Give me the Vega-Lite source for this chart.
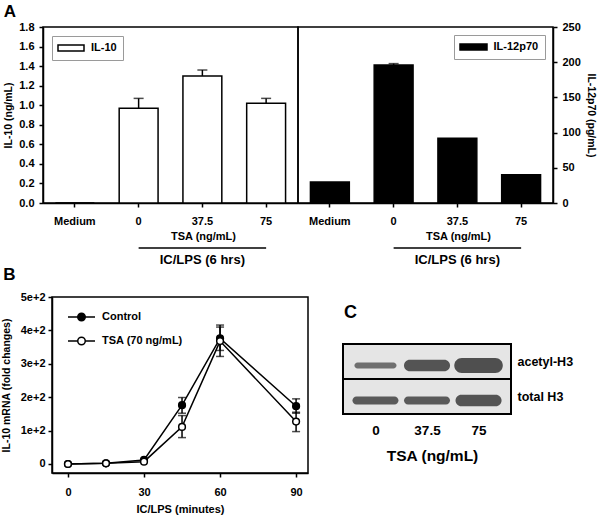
{
  "$schema": "https://vega.github.io/schema/vega-lite/v6.json",
  "background": "white",
  "padding": {"left": 0, "top": 2, "right": 0, "bottom": 0},
  "spacing": -3,
  "config": {
    "font": "Liberation Sans",
    "view": {"stroke": "black", "strokeWidth": 1.5},
    "axis": {
      "labelFont": "Liberation Sans", "labelFontWeight": "bold", "labelFontSize": 11, "labelColor": "black", "labelOverlap": false,
      "titleFont": "Liberation Sans", "titleFontWeight": "bold", "titleFontSize": 11, "titleColor": "black",
      "domainColor": "black", "domainWidth": 1.5, "tickColor": "black", "tickWidth": 1.5, "tickSize": 4, "grid": false
    },
    "legend": {
      "labelFont": "Liberation Sans", "labelFontWeight": "bold", "labelFontSize": 11, "labelColor": "black"
    },
    "title": {"font": "Liberation Sans", "fontSize": 17, "fontWeight": "bold", "color": "black", "anchor": "start", "frame": "bounds"}
  },
  "vconcat": [
    {
      "bounds": "flush",
      "spacing": 0,
      "resolve": {"scale": {"fill": "independent"}, "legend": {"fill": "independent"}},
      "hconcat": [
        {
          "width": 255, "height": 176,
          "title": {"text": "A", "offset": 0},
          "data": {"values": [
            {"lane": "Medium", "cytokine": "IL-10", "value": 0, "hi": null},
            {"lane": "0", "cytokine": "IL-10", "value": 0.97, "hi": 1.07},
            {"lane": "37.5", "cytokine": "IL-10", "value": 1.30, "hi": 1.36},
            {"lane": "75", "cytokine": "IL-10", "value": 1.02, "hi": 1.07}
          ]},
          "layer": [
            {
              "mark": {"type": "bar", "stroke": "black", "strokeWidth": 1.5},
              "encoding": {
                "x": {"field": "lane", "type": "nominal",
                  "scale": {"domain": ["Medium", "0", "37.5", "75"], "paddingInner": 0.39, "paddingOuter": 0.195},
                  "axis": {"labelAngle": 0, "labelPadding": 8, "title": "TSA (ng/mL)", "titleX": 160, "titleY": 33, "titleBaseline": "middle"}},
                "y": {"field": "value", "type": "quantitative",
                  "scale": {"domain": [0, 1.8], "nice": false},
                  "axis": {"values": [0, 0.2, 0.4, 0.6, 0.8, 1.0, 1.2, 1.4, 1.6, 1.8], "tickCount": 20, "format": ".1f", "labelPadding": 5, "title": "IL-10 (ng/mL)", "titleFontSize": 10.5, "titlePadding": 5}},
                "fill": {"field": "cytokine", "type": "nominal", "scale": {"range": ["white"]},
                  "legend": {"orient": "top-left", "offset": 9, "title": null, "symbolType": "M-2.6,-0.6H2.6V0.6H-2.6Z", "symbolSize": 100, "symbolStrokeColor": "black", "symbolStrokeWidth": 1.5, "strokeColor": "#9a9a9a", "fillColor": "white", "padding": 6, "symbolOffset": 7, "labelOffset": 14}}
              }
            },
            {
              "mark": {"type": "rule", "color": "black", "strokeWidth": 1.5},
              "encoding": {
                "x": {"field": "lane", "type": "nominal"},
                "y": {"field": "value", "type": "quantitative"},
                "y2": {"field": "hi"}
              }
            },
            {
              "mark": {"type": "tick", "color": "black", "size": 10, "thickness": 1.5},
              "encoding": {
                "x": {"field": "lane", "type": "nominal"},
                "y": {"field": "hi", "type": "quantitative"}
              }
            },
            {
              "data": {"values": [{"group": "IC/LPS (6 hrs)"}]},
              "mark": {"type": "rule", "color": "black", "strokeWidth": 1.5},
              "encoding": {
                "x": {"datum": "0", "bandPosition": 0.5},
                "x2": {"datum": "75", "bandPosition": 0.5},
                "y": {"datum": -0.46}
              }
            },
            {
              "data": {"values": [{"group": "IC/LPS (6 hrs)"}]},
              "mark": {"type": "text", "fontSize": 13, "fontWeight": "bold", "font": "Liberation Sans", "baseline": "middle", "color": "black"},
              "encoding": {
                "x": {"datum": "37.5", "bandPosition": 0.5},
                "y": {"datum": -0.583},
                "text": {"field": "group"}
              }
            }
          ]
        },
        {
          "width": 255, "height": 176,
          "data": {"values": [
            {"lane": "Medium", "cytokine": "IL-12p70", "value": 30, "hi": null},
            {"lane": "0", "cytokine": "IL-12p70", "value": 196, "hi": 198},
            {"lane": "37.5", "cytokine": "IL-12p70", "value": 92, "hi": null},
            {"lane": "75", "cytokine": "IL-12p70", "value": 40, "hi": null}
          ]},
          "layer": [
            {
              "mark": {"type": "bar", "stroke": "black", "strokeWidth": 1.5},
              "encoding": {
                "x": {"field": "lane", "type": "nominal",
                  "scale": {"domain": ["Medium", "0", "37.5", "75"], "paddingInner": 0.39, "paddingOuter": 0.195},
                  "axis": {"labelAngle": 0, "labelPadding": 8, "title": "TSA (ng/mL)", "titleX": 160, "titleY": 33, "titleBaseline": "middle"}},
                "y": {"field": "value", "type": "quantitative",
                  "scale": {"domain": [0, 250], "nice": false},
                  "axis": {"orient": "right", "values": [0, 50, 100, 150, 200, 250], "tickCount": 20, "labelPadding": 5, "title": "IL-12p70 (pg/mL)", "titleFontSize": 10.5, "titlePadding": 5}},
                "fill": {"field": "cytokine", "type": "nominal", "scale": {"range": ["black"]},
                  "legend": {"orient": "top-right", "offset": 8, "title": null, "symbolType": "M-2.7,-0.6H2.7V0.6H-2.7Z", "symbolSize": 100, "symbolStrokeColor": "black", "symbolStrokeWidth": 1.5, "strokeColor": "#9a9a9a", "fillColor": "white", "padding": 6, "symbolOffset": 7.5, "labelOffset": 14}}
              }
            },
            {
              "mark": {"type": "rule", "color": "black", "strokeWidth": 1.5},
              "encoding": {
                "x": {"field": "lane", "type": "nominal"},
                "y": {"field": "value", "type": "quantitative"},
                "y2": {"field": "hi"}
              }
            },
            {
              "mark": {"type": "tick", "color": "black", "size": 10, "thickness": 1.5},
              "encoding": {
                "x": {"field": "lane", "type": "nominal"},
                "y": {"field": "hi", "type": "quantitative"}
              }
            },
            {
              "data": {"values": [{"group": "IC/LPS (6 hrs)"}]},
              "mark": {"type": "rule", "color": "black", "strokeWidth": 1.5},
              "encoding": {
                "x": {"datum": "0", "bandPosition": 0.5},
                "x2": {"datum": "75", "bandPosition": 0.5},
                "y": {"datum": -64}
              }
            },
            {
              "data": {"values": [{"group": "IC/LPS (6 hrs)"}]},
              "mark": {"type": "text", "fontSize": 13, "fontWeight": "bold", "font": "Liberation Sans", "baseline": "middle", "color": "black"},
              "encoding": {
                "x": {"datum": "37.5", "bandPosition": 0.5},
                "y": {"datum": -81},
                "text": {"field": "group"}
              }
            }
          ]
        }
      ]
    },
    {
      "bounds": "flush",
      "spacing": 8,
      "resolve": {"scale": {"color": "independent", "shape": "independent", "fill": "independent"}},
      "hconcat": [
        {
          "width": 1, "height": 1,
          "view": {"stroke": null},
          "data": {"values": []},
          "mark": "point"
        },
        {
          "width": 256, "height": 176,
          "title": {"text": "B", "offset": 7, "dx": 2},
          "data": {"values": [
            {"series": "Control", "t": 0, "value": 0, "lo": null, "hi": null},
            {"series": "Control", "t": 15, "value": 2, "lo": null, "hi": null},
            {"series": "Control", "t": 30, "value": 12, "lo": null, "hi": null},
            {"series": "Control", "t": 45, "value": 176, "lo": 152, "hi": 199},
            {"series": "Control", "t": 60, "value": 376, "lo": 340, "hi": 416},
            {"series": "Control", "t": 90, "value": 173, "lo": 152, "hi": 195},
            {"series": "TSA (70 ng/mL)", "t": 0, "value": 0, "lo": null, "hi": null},
            {"series": "TSA (70 ng/mL)", "t": 15, "value": 2, "lo": null, "hi": null},
            {"series": "TSA (70 ng/mL)", "t": 30, "value": 7, "lo": null, "hi": null},
            {"series": "TSA (70 ng/mL)", "t": 45, "value": 111, "lo": 79, "hi": 145},
            {"series": "TSA (70 ng/mL)", "t": 60, "value": 368, "lo": 322, "hi": 410},
            {"series": "TSA (70 ng/mL)", "t": 90, "value": 127, "lo": 97, "hi": 155}
          ]},
          "encoding": {
            "x": {"field": "t", "type": "quantitative",
              "scale": {"domain": [-6.3, 94.7], "nice": false, "zero": false},
              "axis": {"values": [0, 30, 60, 90], "tickCount": 20, "title": "IC/LPS (minutes)", "labelPadding": 9, "titlePadding": 6}}
          },
          "layer": [
            {
              "mark": {"type": "line", "color": "black", "strokeWidth": 1.5},
              "encoding": {
                "y": {"field": "value", "type": "quantitative",
                  "scale": {"domain": [-27, 500], "nice": false, "zero": false},
                  "axis": {"values": [0, 100, 200, 300, 400, 500], "tickCount": 20, "labelExpr": "datum.value == 0 ? '0' : (datum.value / 100) + 'e+2'", "labelPadding": 3, "title": "IL-10 mRNA (fold changes)", "titleFontSize": 10.5, "titlePadding": 9}},
                "detail": {"field": "series", "type": "nominal"}
              }
            },
            {
              "mark": {"type": "rule", "color": "black", "strokeWidth": 1.5},
              "encoding": {
                "y": {"field": "lo", "type": "quantitative"},
                "y2": {"field": "hi"}
              }
            },
            {
              "mark": {"type": "tick", "orient": "horizontal", "color": "black", "size": 8, "thickness": 1.5},
              "encoding": {
                "y": {"field": "lo", "type": "quantitative"}
              }
            },
            {
              "mark": {"type": "tick", "orient": "horizontal", "color": "black", "size": 8, "thickness": 1.5},
              "encoding": {
                "y": {"field": "hi", "type": "quantitative"}
              }
            },
            {
              "mark": {"type": "point", "filled": true, "size": 45, "stroke": "black", "strokeWidth": 1.5, "opacity": 1},
              "encoding": {
                "y": {"field": "value", "type": "quantitative"},
                "fill": {"field": "series", "type": "nominal",
                  "scale": {"domain": ["Control", "TSA (70 ng/mL)"], "range": ["black", "white"]},
                  "legend": {"orient": "none", "legendX": 23.5, "legendY": 14, "title": null, "symbolType": "M-2.7,0H-0.75A0.75,0.75,0,1,1,0.75,0A0.75,0.75,0,1,1,-0.75,0M0.75,0H2.7", "symbolSize": 100, "symbolStrokeColor": "black", "symbolStrokeWidth": 1.5, "labelOffset": 14.5, "rowPadding": 10, "padding": 0}}
              }
            }
          ]
        },
        {
          "width": 19, "height": 1,
          "view": {"stroke": null},
          "data": {"values": []},
          "mark": "point"
        },
        {
          "bounds": "flush",
          "spacing": 46,
          "vconcat": [
            {
              "width": 1, "height": 1,
              "view": {"stroke": null},
              "data": {"values": []},
              "mark": "point"
            },
            {
              "width": 168, "height": 70,
              "title": {"text": "C", "offset": 22, "dx": 2, "fontSize": 18},
              "view": {"fill": "#e5e5e5", "stroke": "black", "strokeWidth": 2},
              "data": {"values": [
                {"lane": "0", "protein": "acetyl-H3", "band": "faint"},
                {"lane": "37.5", "protein": "acetyl-H3", "band": "strong"},
                {"lane": "75", "protein": "acetyl-H3", "band": "heavy"},
                {"lane": "0", "protein": "total H3", "band": "medium"},
                {"lane": "37.5", "protein": "total H3", "band": "medium"},
                {"lane": "75", "protein": "total H3", "band": "strong"}
              ]},
              "layer": [
                {
                  "mark": {"type": "point", "filled": true, "size": 2500, "opacity": 1, "strokeWidth": 0},
                  "encoding": {
                    "x": {"field": "lane", "type": "ordinal",
                      "scale": {"type": "point", "domain": ["0", "37.5", "75"], "padding": 0.63},
                      "axis": {"labelAngle": 0, "ticks": false, "tickSize": 0, "domain": false, "labelFontSize": 13.5, "labelPadding": 9, "title": "TSA (ng/mL)", "titleFontSize": 15.5, "titlePadding": 12, "titleX": 89}},
                    "y": {"field": "protein", "type": "nominal",
                      "scale": {"type": "band", "domain": ["acetyl-H3", "total H3"], "paddingInner": 0, "paddingOuter": 0},
                      "axis": {"orient": "right", "ticks": false, "tickSize": 0, "domain": false, "labelFontSize": 12.5, "labelPadding": 6, "title": null}},
                    "shape": {"field": "band", "type": "nominal",
                      "scale": {"domain": ["faint", "medium", "strong", "heavy"],
                        "range": [
                          "M-0.72,0.04H0.72A0.12,0.12,0,0,1,0.72,0.28H-0.72A0.12,0.12,0,0,1,-0.72,0.04Z",
                          "M-0.76,0H0.76A0.16,0.16,0,0,1,0.76,0.32H-0.76A0.16,0.16,0,0,1,-0.76,0Z",
                          "M-0.69,-0.07H0.69A0.23,0.23,0,0,1,0.69,0.39H-0.69A0.23,0.23,0,0,1,-0.69,-0.07Z",
                          "M-0.67,-0.14H0.67A0.3,0.3,0,0,1,0.67,0.46H-0.67A0.3,0.3,0,0,1,-0.67,-0.14Z"
                        ]},
                      "legend": null},
                    "color": {"field": "band", "type": "nominal",
                      "scale": {"domain": ["faint", "medium", "strong", "heavy"], "range": ["#6f6f6f", "#5a5a5a", "#545454", "#4f4f4f"]},
                      "legend": null}
                  }
                },
                {
                  "data": {"values": [{"divider": "total H3"}]},
                  "mark": {"type": "rule", "color": "black", "strokeWidth": 2},
                  "encoding": {
                    "y": {"datum": "total H3", "bandPosition": 0}
                  }
                }
              ]
            }
          ]
        }
      ]
    }
  ]
}
